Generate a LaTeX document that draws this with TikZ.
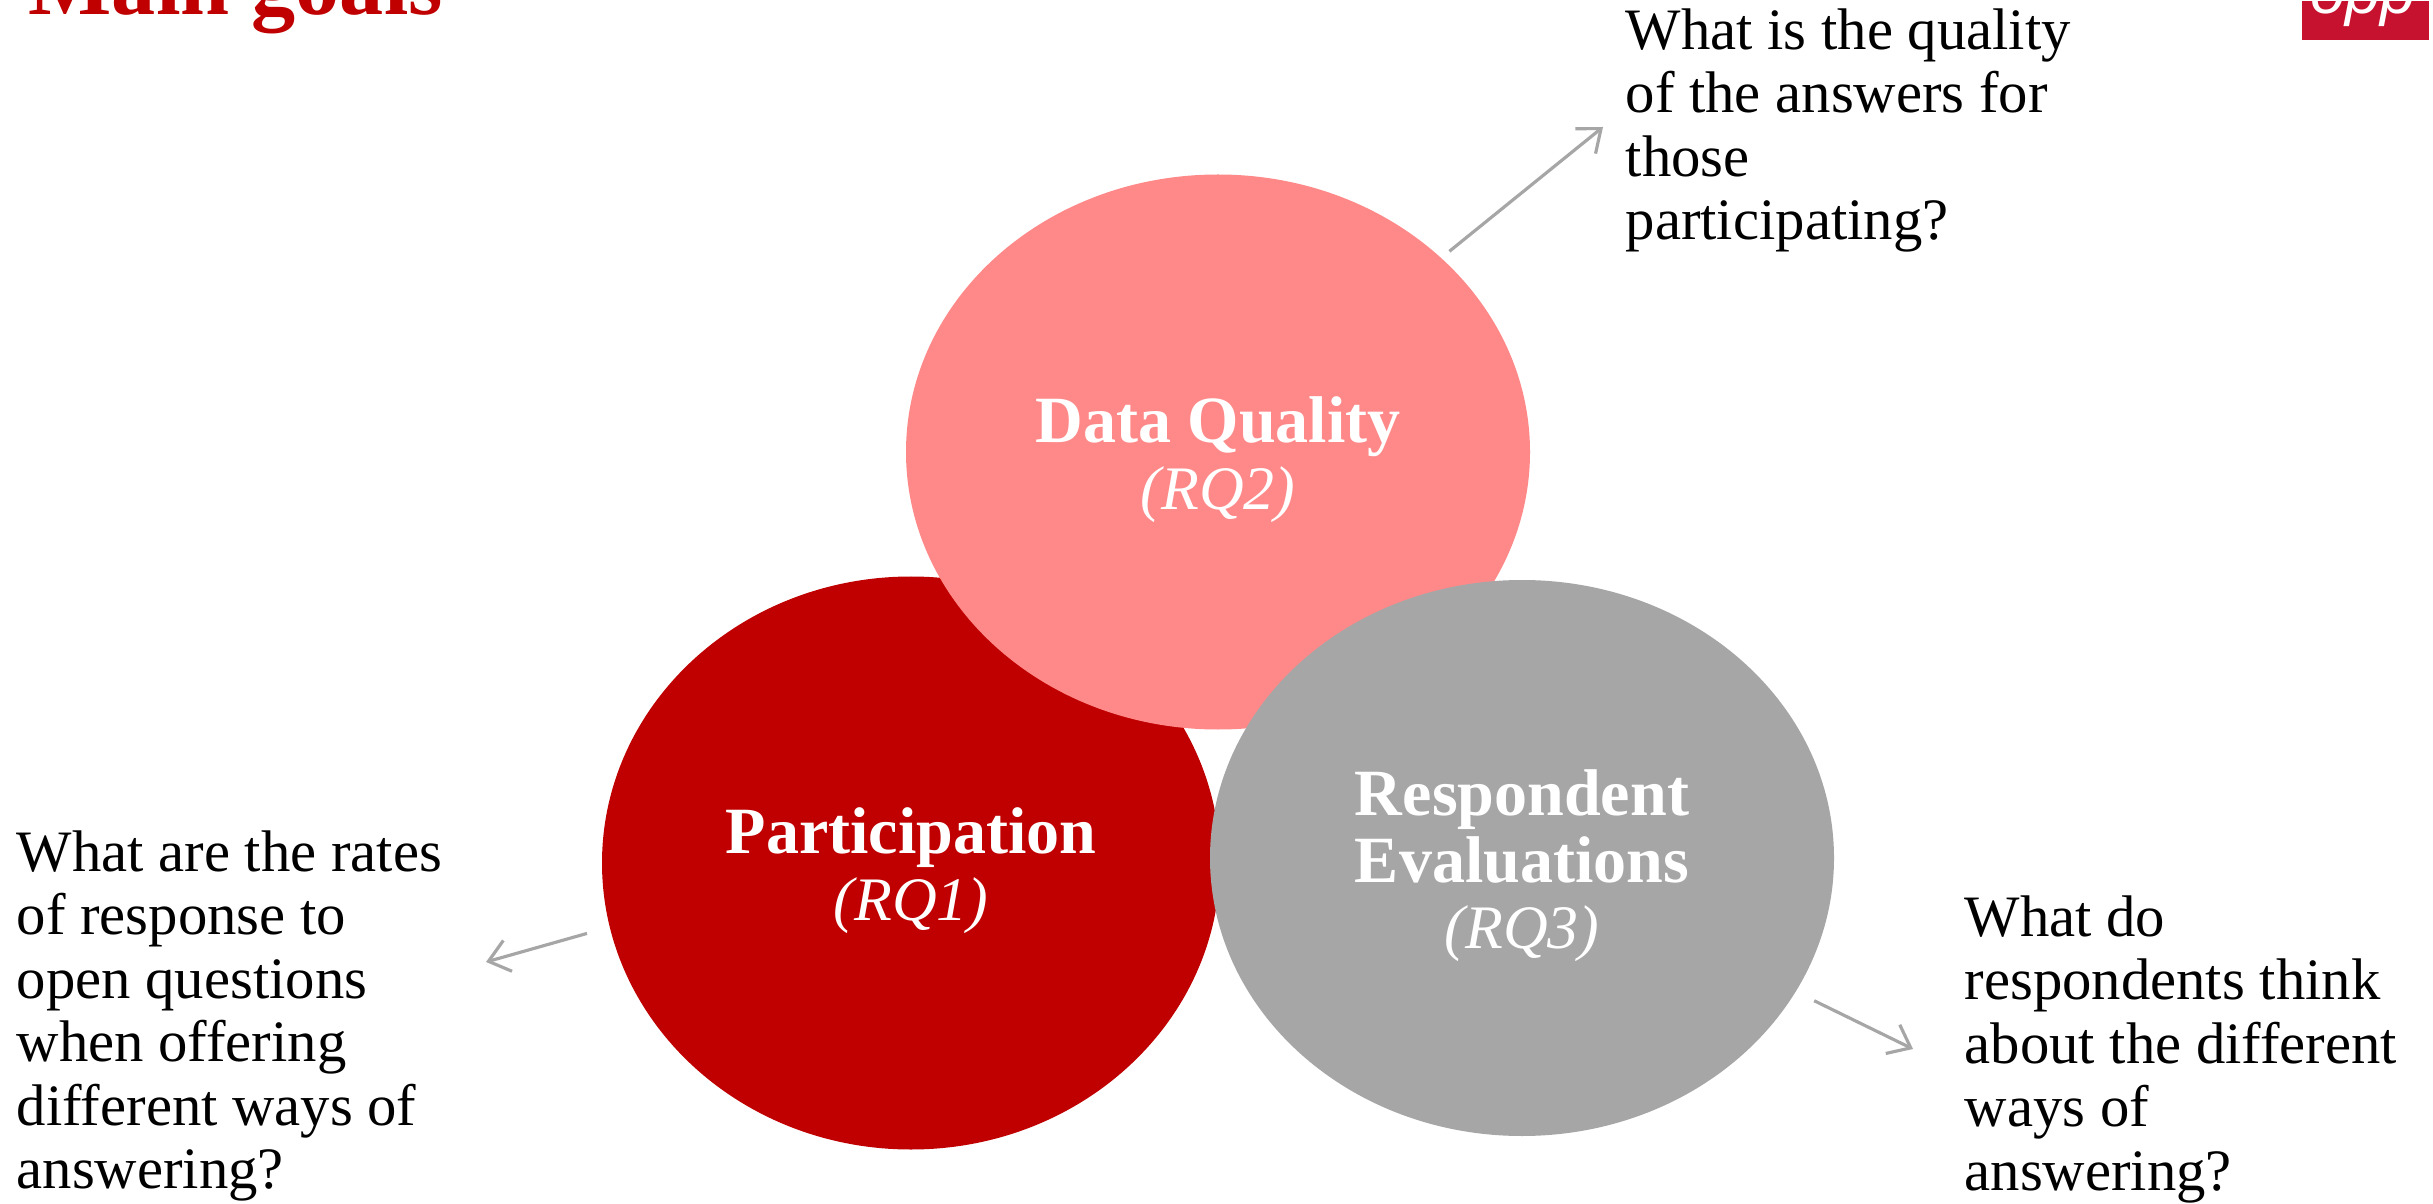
\documentclass[tikz,border=0pt]{standalone}
\usepackage{fontspec}
\setmainfont{Liberation Serif}
\setsansfont{Liberation Sans}
\usetikzlibrary{shapes.geometric, arrows.meta}
\definecolor{darkred}{HTML}{C00000}
\definecolor{softred}{HTML}{FF8989}
\definecolor{midgrey}{HTML}{A6A6A6}
\definecolor{logored}{HTML}{C6112F}
\newcommand{\bodyfont}{\fontsize{16.7}{18.05}\selectfont}
\newcommand{\blobfont}{\fontsize{18.8}{19}\selectfont}
\newcommand{\rqfont}{\fontsize{17.6}{19}\selectfont\itshape}
\newcommand{\topgap}{\rule{0pt}{17.5pt}}
\begin{document}
\begin{tikzpicture}[
	goal/.style={ellipse, inner sep=0pt, text=white, align=center, font=\blobfont},
	question/.style={anchor=north west, inner sep=0pt, align=left, font=\bodyfont},
	pointer/.style={-{Straight Barb[length=2mm,width=3.2mm]}, midgrey, line width=0.9pt}
	]
			\useasboundingbox (0,0) rectangle (24.33,12.03);
			\clip (0,0) rectangle (24.33,12.03);
			\fill[white] (0,0) rectangle (24.33,12.03);
			%Title and logo, both cut by the top edge
			\node[anchor=base west, inner sep=0pt, darkred, font=\fontsize{25.1}{26}\selectfont\bfseries] (title) at (0.28,11.88) {Main goals};
			\node[anchor=north west, inner sep=0pt, fill=logored, minimum width=1.27cm, minimum height=0.39cm] (logobox) at (23.01,12.03) {};
			\node[anchor=base, inner sep=0pt, white, font=\fontsize{18}{18}\selectfont\sffamily\itshape] (logotext) at (23.63,11.89) {opp};
			%Research question circles
			\node[goal, fill=darkred, minimum width=6.18cm, minimum height=5.73cm] (participation) at (9.11,3.40) {\topgap\textbf{Participation}\\{\rqfont (RQ1)}};
			\node[goal, fill=softred, minimum width=6.24cm, minimum height=5.55cm] (dataquality) at (12.18,7.51) {\topgap\textbf{Data Quality}\\{\rqfont (RQ2)}};
			\node[goal, fill=midgrey, minimum width=6.24cm, minimum height=5.56cm] (evaluations) at (15.22,3.45) {\topgap\textbf{Respondent}\\\textbf{Evaluations}\\{\rqfont (RQ3)}};
			%Questions
			\node[question] (qualitytext) at (16.25,11.95) {What is the quality\\of the answers for\\those\\participating?};
			\node[question] (participationtext) at (0.16,3.73) {What are the rates\\of response to\\open questions\\when offering\\different ways of\\answering?};
			\node[question] (evaluationstext) at (19.64,3.08) {What do\\respondents think\\about the different\\ways of\\answering?};
			%Arrow ends
			\coordinate (qualitytip) at (16.03,10.76);
			\coordinate (participationtip) at (4.86,2.41);
			\coordinate (evaluationstip) at (19.13,1.54);
			\draw[pointer, shorten <=0.10cm] (dataquality.41) -- (qualitytip);
			\draw[pointer, shorten <=0.23cm] (participation.192) -- (participationtip);
			\draw[pointer, shorten <=0.20cm] (evaluations) -- (evaluationstip);
		\end{tikzpicture}
\end{document}
